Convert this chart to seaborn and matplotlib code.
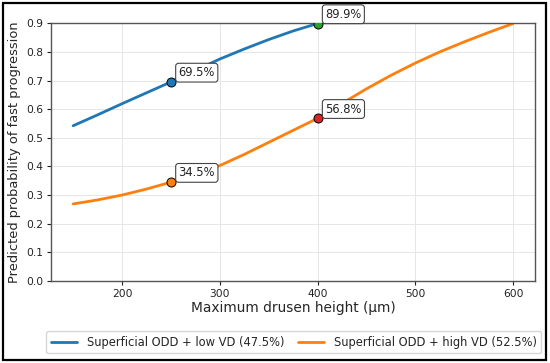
import matplotlib
matplotlib.use("Agg")
import matplotlib.pyplot as plt
import numpy as np
import pandas as pd
import seaborn as sns
from matplotlib.patches import Rectangle

sns.set_style("whitegrid")
plt.rcParams['font.family'] = ['DejaVu Sans']

# drusen height grid (um)
heights = [150, 175, 200, 225, 250, 275, 300, 325, 350, 375,
           400, 425, 450, 475, 500, 525, 550, 575, 600]
# predicted probability
low_vd = [0.542, 0.580, 0.619, 0.657, 0.695, 0.735, 0.775, 0.810, 0.843, 0.873,
          0.899, 0.921, 0.940, 0.955, 0.966, 0.975, 0.982, 0.987, 0.991]
high_vd = [0.269, 0.283, 0.300, 0.321, 0.345, 0.372, 0.403, 0.442, 0.484, 0.526,
           0.568, 0.620, 0.671, 0.718, 0.761, 0.800, 0.835, 0.868, 0.899]
labels = ['Superficial ODD + low VD (47.5%)', 'Superficial ODD + high VD (52.5%)']

# highlighted points
pt_x = [250, 400, 250, 400]
pt_y = [0.695, 0.899, 0.345, 0.568]
pt_text = ['69.5%', '89.9%', '34.5%', '56.8%']
pt_colors = ['#1f77b4', '#2ca02c', '#ff7f0e', '#d62728']

df = pd.DataFrame({
    'height': heights * 2,
    'prob': low_vd + high_vd,
    'group': [labels[0]] * len(heights) + [labels[1]] * len(heights),
})

fig = plt.figure(figsize=(5.5, 3.63), dpi=100)
ax = fig.add_axes([0.093, 0.226, 0.88, 0.71])

sns.lineplot(data=df, x='height', y='prob', hue='group', palette=['#1f77b4', '#ff7f0e'],
             linewidth=2, ax=ax, legend=False)

for x, y, t, c in zip(pt_x, pt_y, pt_text, pt_colors):
    ax.scatter([x], [y], s=42, color=c, edgecolor='black', linewidth=0.7, zorder=5)
    ax.annotate(t, (x, y), xytext=(5.5, 2), textcoords='offset points',
                ha='left', va='bottom', fontsize=8.3, color='#222222',
                bbox=dict(boxstyle='round,pad=0.25', fc='white', ec='#444444', lw=0.8),
                zorder=6, annotation_clip=False)

ax.set_xlim(127.5, 622.5)
ax.set_ylim(0, 0.9)
ax.set_xticks([200, 300, 400, 500, 600])
ax.set_yticks(np.arange(0, 0.95, 0.1))
ax.set_yticklabels(['%.1f' % v for v in np.arange(0, 0.95, 0.1)])
ax.tick_params(axis='both', labelsize=7.7, length=3, width=0.8, colors='#222222',
               direction='out', bottom=True, left=True, pad=2.5)
ax.grid(True, color='#e6e6e6', linewidth=0.7)
for s in ax.spines.values():
    s.set_color('#555555')
    s.set_linewidth(1.0)
ax.set_xlabel('Maximum drusen height (µm)', fontsize=9.9, labelpad=2)
ax.set_ylabel('Predicted probability of fast progression', fontsize=9.4, labelpad=4)

handles = [plt.Line2D([], [], color='#1f77b4', lw=2),
           plt.Line2D([], [], color='#ff7f0e', lw=2)]
fig.legend(handles, labels, loc='lower left', bbox_to_anchor=(0.084, 0.027, 0.9, 0.057),
           mode='expand', ncol=2, fontsize=8.3, frameon=True, edgecolor='#cccccc',
           handlelength=2.3, borderaxespad=0)

fig.patches.append(Rectangle((0.006, 0.008), 0.987, 0.984, transform=fig.transFigure,
                             fill=False, edgecolor='black', linewidth=1.6))

fig.savefig('out.png', dpi=100)
